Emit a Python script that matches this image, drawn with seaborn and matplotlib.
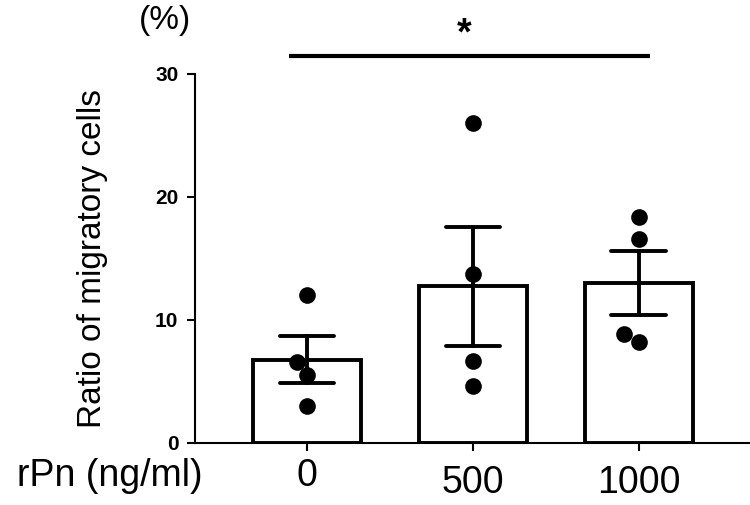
import pandas as pd
import seaborn as sns
import matplotlib.pyplot as plt
import matplotlib.transforms as mtrans

# values, 4 wells per dose
doses = ["0", "500", "1000"]
ratio_0 = [12.0, 6.6, 5.5, 3.0]
ratio_500 = [26.0, 13.7, 6.7, 4.6]
ratio_1000 = [18.4, 16.6, 8.9, 8.2]
y_ticks = [0, 10, 20, 30]

df = pd.DataFrame({
    "dose": [doses[0]] * len(ratio_0) + [doses[1]] * len(ratio_500) + [doses[2]] * len(ratio_1000),
    "ratio": ratio_0 + ratio_500 + ratio_1000,
})

sns.set_style("ticks", {"axes.edgecolor": "black", "text.color": "black",
                        "xtick.color": "black", "ytick.color": "black",
                        "axes.labelcolor": "black"})
plt.rcParams["font.family"] = ["Liberation Sans", "DejaVu Sans"]

fig = plt.figure(figsize=(7.5, 5.05), dpi=100)
ax = fig.add_axes([0.26, 0.1228, 0.74, 0.7307])

sns.barplot(data=df, x="dose", y="ratio", order=doses, errorbar="se",
            width=0.65, capsize=0.33, color="white", edgecolor="black",
            linewidth=2.8, err_kws={"color": "black", "linewidth": 2.8},
            ax=ax)
sns.swarmplot(data=df, x="dose", y="ratio", order=doses, color="black",
              size=12, linewidth=0, ax=ax, zorder=5)

ax.set_xlim(-0.675, 2.67)
ax.set_ylim(0, 30)
ax.set_yticks(y_ticks)
sns.despine(ax=ax)
ax.spines["left"].set_bounds(0, 30)
for side in ["left", "bottom"]:
    ax.spines[side].set_linewidth(1.5)

ax.tick_params(axis="y", length=6, width=1.5, pad=6, labelsize=15)
ax.tick_params(axis="x", length=6, width=1.5, pad=10, labelsize=27)
for lab in ax.get_yticklabels():
    lab.set_fontweight("bold")
# the "0" label sits a little higher in the original
first = ax.get_xticklabels()[0]
first.set_transform(first.get_transform() + mtrans.ScaledTranslation(0, 7 / 100, fig.dpi_scale_trans))

ax.set_xlabel("")
ax.set_ylabel("Ratio of migratory cells", fontsize=24)
ax.yaxis.set_label_coords(-0.157, 0.5)

# significance bar
ax.plot([-0.11, 2.07], [31.5, 31.5], color="black", linewidth=3, clip_on=False,
        solid_capstyle="butt")
ax.text(0.95, 32.4, "*", fontsize=27, fontweight="bold", ha="center",
        va="baseline", clip_on=False)

fig.text(165 / 750, 1 - 20 / 505, "(%)", fontsize=24, ha="center", va="center")
fig.text(203 / 750, 1 - 476 / 505, "rPn (ng/ml)", fontsize=27, ha="right", va="center")

plt.savefig("out.png", dpi=100)
